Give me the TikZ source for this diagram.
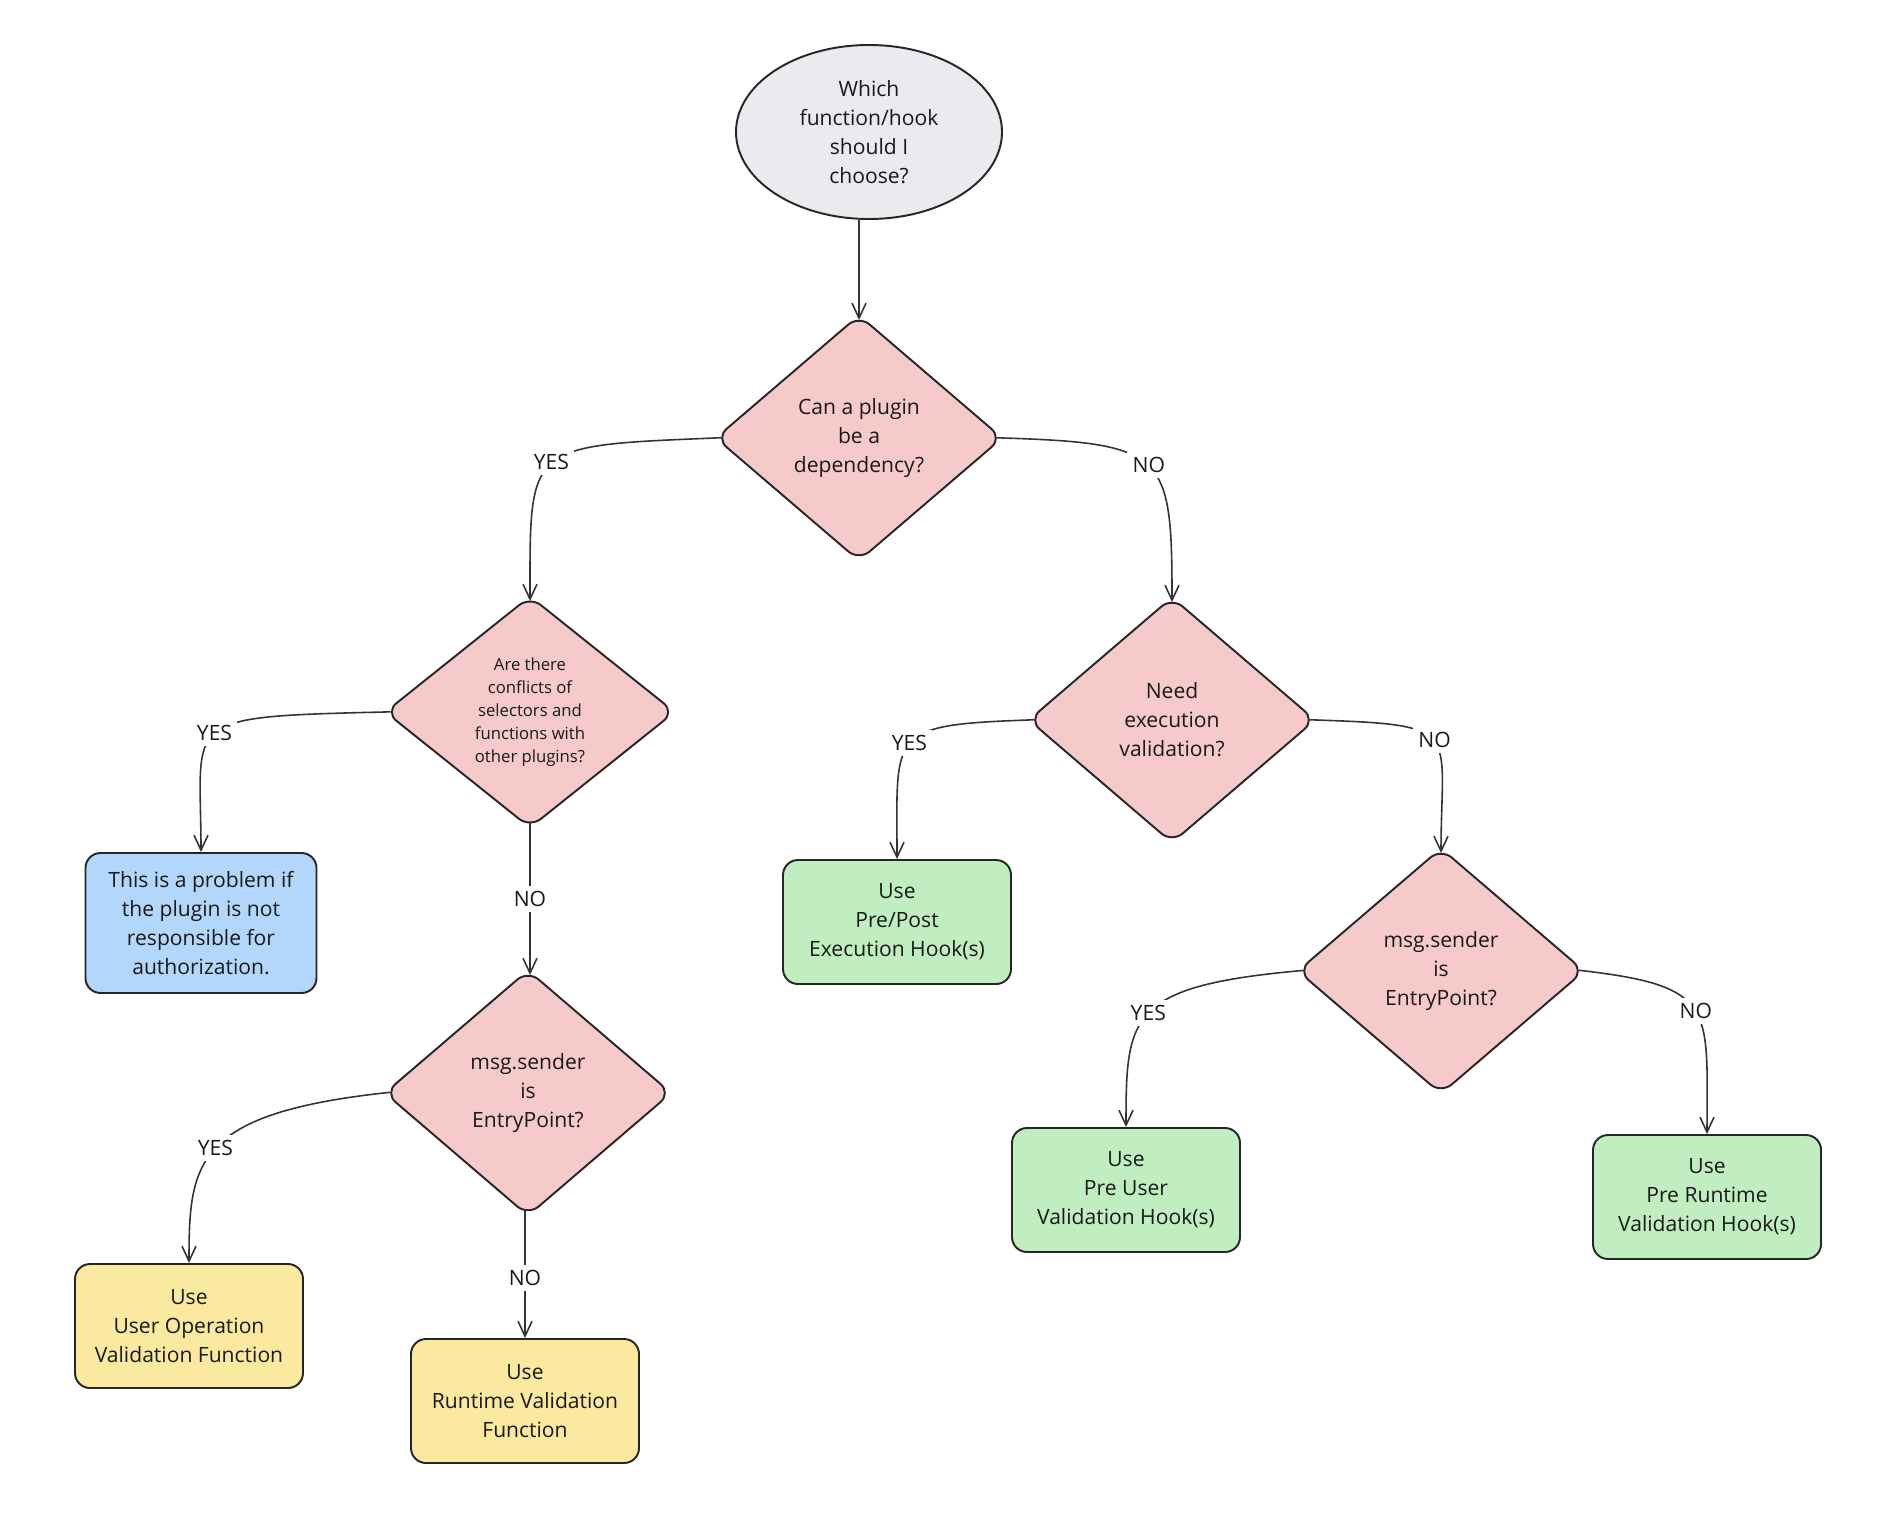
\documentclass[tikz,border=0pt]{standalone}
\usepackage{fontspec}
\setmainfont{Open Sans}
\usepackage{tikz}
\usetikzlibrary{arrows.meta,shapes.geometric}

\definecolor{startgray}{HTML}{E9EBEF}
\definecolor{qpink}{HTML}{F6CACA}
\definecolor{noteblue}{HTML}{B3D7FB}
\definecolor{hookgreen}{HTML}{C1EEC0}
\definecolor{fnyellow}{HTML}{FBE9A0}

\tikzset{
  txt/.style={font=\fontsize{12}{16.5}\selectfont, align=center, text=black!90},
  question/.style={diamond, txt, draw=black!85, line width=1.1pt, fill=qpink, rounded corners=8pt,
    shape aspect=1.2, inner sep=0pt, minimum width=57.4mm, minimum height=49.2mm},
  answer/.style={rectangle, txt, draw=black!85, line width=1.1pt, rounded corners=3mm,
    minimum width=45.6mm, minimum height=24.8mm},
  flow/.style={draw=black!80, line width=0.9pt, -{Straight Barb[length=3mm,width=2.8mm]},
    shorten <=-1.3mm},
  todiamond/.style={shorten >=-1.2mm},
  lbl/.style={txt, fill=white, inner sep=3pt},
}

\begin{document}
\begin{tikzpicture}[x=0.2mm, y=-0.2mm]
\useasboundingbox (0,0) rectangle (1898,1526);

\node[ellipse, txt, draw=black!85, line width=1.1pt, fill=startgray, inner sep=0pt,
  minimum width=53.2mm, minimum height=34.8mm] (start) at (869,132)
  {Which\\function/hook\\should I\\choose?};

\node[question] (dep) at (859,438) {Can a plugin\\be a\\dependency?};
\node[question, font=\fontsize{9.5}{13}\selectfont, minimum width=58mm, minimum height=46.4mm]
  (conflict) at (530,712) {Are there\\conflicts of\\selectors and\\functions with\\other plugins?};
\node[question] (execval) at (1172,720) {Need\\execution\\validation?};
\node[question] (senderL) at (528,1093) {msg.sender\\is\\EntryPoint?};
\node[question] (senderR) at (1441,971) {msg.sender\\is\\EntryPoint?};

\node[answer, fill=noteblue, minimum width=46.2mm, minimum height=28mm] (authz) at (201,923)
  {This is a problem if\\the plugin is not\\responsible for\\authorization.};
\node[answer, fill=hookgreen] (prepost) at (897,922) {Use\\Pre/Post\\Execution Hook(s)};
\node[answer, fill=hookgreen] (preuser) at (1126,1190) {Use\\Pre User\\Validation Hook(s)};
\node[answer, fill=hookgreen] (preruntime) at (1707,1197) {Use\\Pre Runtime\\Validation Hook(s)};
\node[answer, fill=fnyellow] (userop) at (189,1326) {Use\\User Operation\\Validation Function};
\node[answer, fill=fnyellow] (runtimefn) at (525,1401) {Use\\Runtime Validation\\Function};

\draw[flow, todiamond, shorten <=0pt] (start.south -| dep.north) -- (dep.north);
\draw[flow, todiamond] (dep.west) .. controls +(-189,8) and +(0,-153) .. node[lbl] {YES} (conflict.north);
\draw[flow, todiamond] (dep.east) .. controls +(163,5) and +(0,-144) .. node[lbl] {NO} (execval.north);
\draw[flow] (conflict.west) .. controls +(-208,5) and +(0,-136) .. node[lbl] {YES} (authz.north);
\draw[flow, todiamond] (conflict.south) -- node[lbl] {NO} (conflict.south |- senderL.north);
\draw[flow] (execval.west) .. controls +(-141,5) and +(0,-129) .. node[lbl] {YES} (prepost.north);
\draw[flow, todiamond] (execval.east) .. controls +(149,5) and +(0,-120) .. node[lbl] {NO} (senderR.north);
\draw[flow] (senderL.west) .. controls +(-189,20) and +(0,-101) .. node[lbl] {YES} (userop.north);
\draw[flow] (senderL.south -| runtimefn.north) -- node[lbl] {NO} (runtimefn.north);
\draw[flow] (senderR.west) .. controls +(-168,15) and +(0,-112) .. node[lbl] {YES} (preuser.north);
\draw[flow] (senderR.east) .. controls +(132,15) and +(0,-127) .. node[lbl] {NO} (preruntime.north);
\end{tikzpicture}
\end{document}
